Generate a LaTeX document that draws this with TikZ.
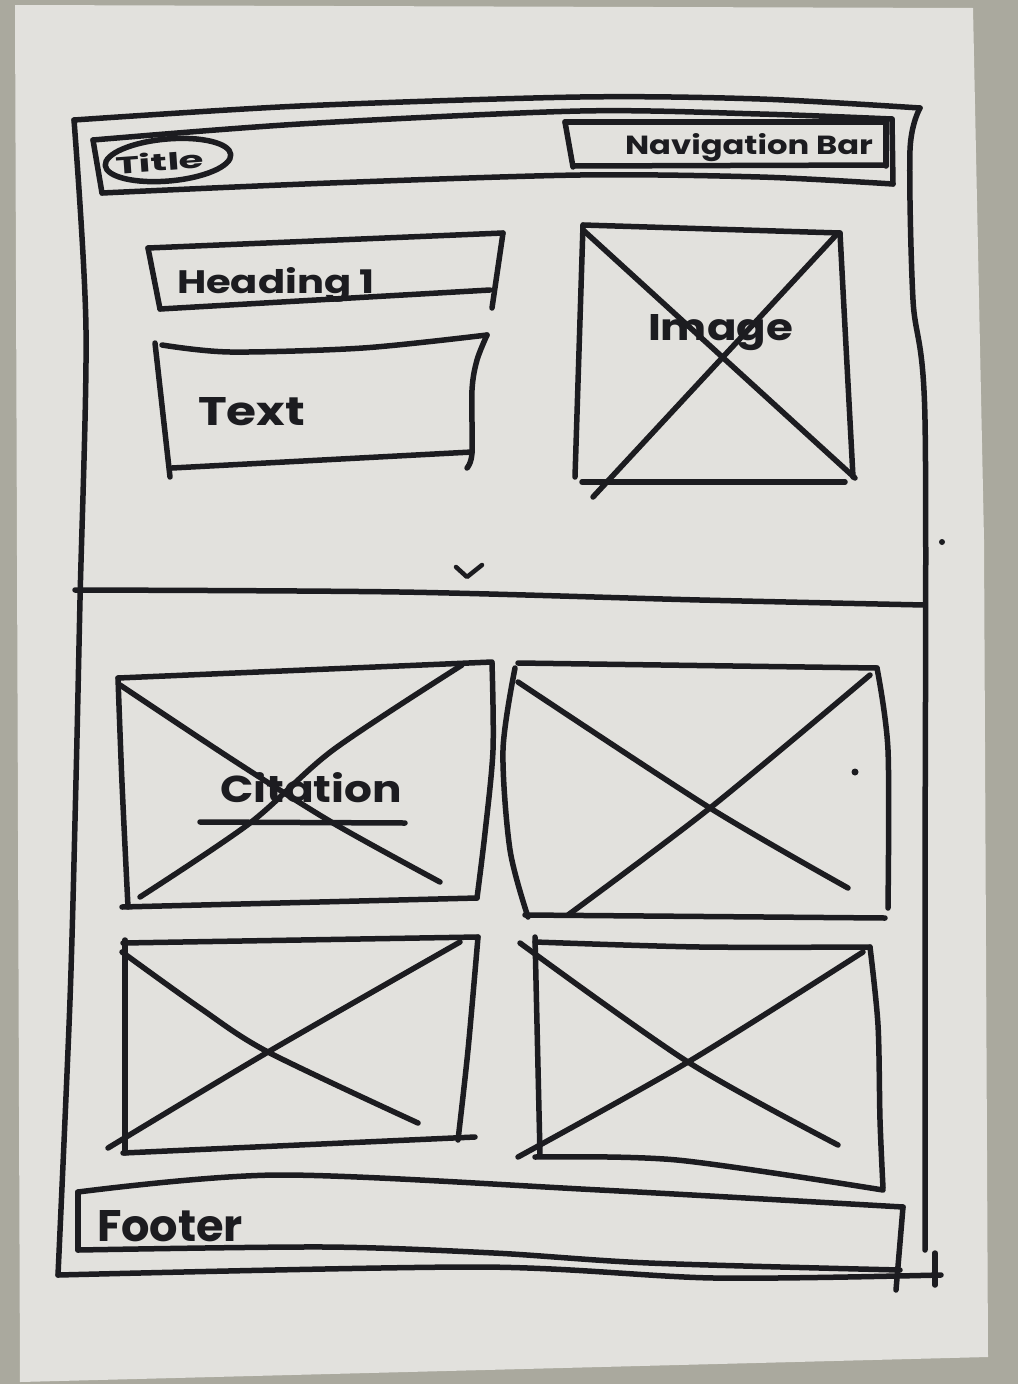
\documentclass[tikz,border=0pt]{standalone}
\usepackage{fontspec}
\usepackage{graphicx}
\setmainfont{Poppins}
\definecolor{tablec}{RGB}{170,169,158}
\definecolor{paperc}{RGB}{226,225,221}
\definecolor{inkc}{RGB}{28,28,32}
\tikzset{
  ink/.style={draw=inkc, line width=5.5pt, line cap=round, line join=round},
  thinink/.style={draw=inkc, line width=4.5pt, line cap=round, line join=round},
  hand/.style={inner sep=0pt, outer sep=0pt, anchor=base west, text=inkc, font=\bfseries},
}
\newcommand{\hw}[3]{\resizebox{#1pt}{#2pt}{#3}}
\begin{document}
\begin{tikzpicture}[x=1pt,y=-1pt]
  % table and sheet of paper
  \fill[tablec] (0,0) rectangle (1018,1384);
  \useasboundingbox (0,0) rectangle (1018,1384);
  \fill[paperc] (15,5) -- (973,8) -- (984,540) -- (988,1357) -- (20,1382) -- cycle;

  % outer page frame
  \draw[ink] plot[smooth] coordinates {(74,120) (300,106) (580,97) (760,99) (920,108)};
  \draw[ink] plot[smooth] coordinates {(74,120) (86,330) (80,600) (76,780) (70,1000) (58,1275)};
  \draw[ink] plot[smooth] coordinates {(920,108) (910,150) (913,300) (925,420) (925,900) (925,1250)};
  \draw[ink] plot[smooth] coordinates {(58,1275) (480,1267) (714,1278) (941,1275)};
  \draw[ink] (935,1253) -- (935,1285);

  % header bar
  \draw[ink] plot[smooth] coordinates {(93,140) (300,124) (580,111) (760,114) (892,119)};
  \draw[ink] (93,140) -- (102,193);
  \draw[ink] plot[smooth] coordinates {(102,193) (330,183) (580,175) (760,177) (893,184)};
  \draw[ink] (892,119) -- (893,184);

  % title pill
  \draw[ink, rotate around={5:(168,160)}] (168,160) ellipse [x radius=63, y radius=21];
  \node[hand, rotate=4] (title) at (116,174) {\hw{89}{19}{Title}};

  % navigation box
  \draw[ink] (565,122) -- (886,122);
  \draw[ink] (565,122) -- (573,167);
  \draw[ink] (573,166) -- (886,165);
  \draw[ink] (886,122) -- (886,166);
  \node[hand] (nav) at (625,154) {\hw{248}{21}{Navigation Bar}};

  % heading box
  \draw[ink] (148,248) -- (503,233);
  \draw[ink] (503,233) -- (492,308);
  \draw[ink] (160,309) -- (490,290);
  \draw[ink] (148,248) -- (160,309);
  \node[hand] (heading) at (177,293) {\hw{198}{26}{Heading 1}};

  % text box
  \draw[ink] plot[smooth] coordinates {(162,345) (230,352) (363,348) (487,335)};
  \draw[ink] (155,343) -- (170,477);
  \draw[ink] plot[smooth] coordinates {(487,335) (477,360) (472,390) (472,453) (467,468)};
  \draw[ink] (172,468) -- (472,452);
  \node[hand] (text) at (198,425) {\hw{107}{28}{Text}};

  % hero image placeholder
  \draw[ink] (583,225) -- (840,233);
  \draw[ink] (583,225) -- (575,477);
  \draw[ink] (840,233) -- (843,290) -- (853,477);
  \draw[ink] (582,482) -- (845,482);
  \draw[ink] (583,230) -- (855,478);
  \draw[ink] (838,233) -- (593,497);
  \node[hand] (image) at (648,340) {\hw{145}{26}{Image}};

  % scroll hint and section divider
  \draw[thinink] (456,567) -- (467,577) -- (482,565);
  \draw[ink] plot[smooth] coordinates {(75,590) (400,592) (700,600) (925,605)};

  % card with citation
  \draw[ink] (118,678) -- (492,662);
  \draw[ink] plot[smooth] coordinates {(492,663) (493,750) (485,833) (477,898)};
  \draw[ink] (122,907) -- (477,898);
  \draw[ink] plot[smooth] coordinates {(118,678) (122,783) (128,907)};
  \draw[ink] plot[smooth] coordinates {(120,685) (233,760) (333,823) (440,882)};
  \draw[ink] plot[smooth] coordinates {(462,665) (333,750) (250,823) (140,897)};
  \node[hand] (citation) at (220,802) {\hw{182}{30}{Citation}};
  \draw[ink] (200,822) -- (405,823);

  % card two
  \draw[ink] (518,663) -- (877,668);
  \draw[ink] plot[smooth] coordinates {(877,668) (888,750) (888,908)};
  \draw[ink] (525,915) -- (885,918);
  \draw[ink] plot[smooth] coordinates {(515,668) (503,750) (510,850) (528,917)};
  \draw[ink] plot[smooth] coordinates {(518,682) (710,808) (848,888)};
  \draw[ink] plot[smooth] coordinates {(870,675) (710,808) (568,915)};

  % card three
  \draw[ink] (123,943) -- (478,937);
  \draw[ink] plot[smooth] coordinates {(478,937) (468,1050) (458,1140)};
  \draw[ink] (123,1153) -- (475,1137);
  \draw[ink] (125,940) -- (125,1153);
  \draw[ink] plot[smooth] coordinates {(122,952) (200,1008) (268,1052) (418,1123)};
  \draw[ink] plot[smooth] coordinates {(460,942) (268,1052) (108,1148)};

  % card four
  \draw[ink] plot[smooth] coordinates {(535,942) (700,947) (870,947)};
  \draw[ink] plot[smooth] coordinates {(870,947) (878,1025) (880,1120) (883,1188)};
  \draw[ink] plot[smooth] coordinates {(535,1157) (677,1160) (883,1190)};
  \draw[ink] (535,937) -- (540,1155);
  \draw[ink] plot[smooth] coordinates {(520,943) (688,1062) (838,1145)};
  \draw[ink] plot[smooth] coordinates {(863,952) (688,1062) (518,1157)};

  % footer
  \draw[ink] plot[smooth] coordinates {(78,1192) (279,1175) (600,1190) (903,1207)};
  \draw[ink] plot[smooth] coordinates {(78,1250) (325,1247) (494,1253) (649,1263) (900,1270)};
  \draw[ink] (78,1192) -- (78,1250);
  \draw[ink] (903,1207) -- (896,1290);
  \node[hand] (footer) at (97,1241) {\hw{146}{31}{Footer}};

  % stray ink specks
  \fill[inkc] (942,542) circle (3);
  \fill[inkc] (855,772) circle (3.5);
\end{tikzpicture}
\end{document}
